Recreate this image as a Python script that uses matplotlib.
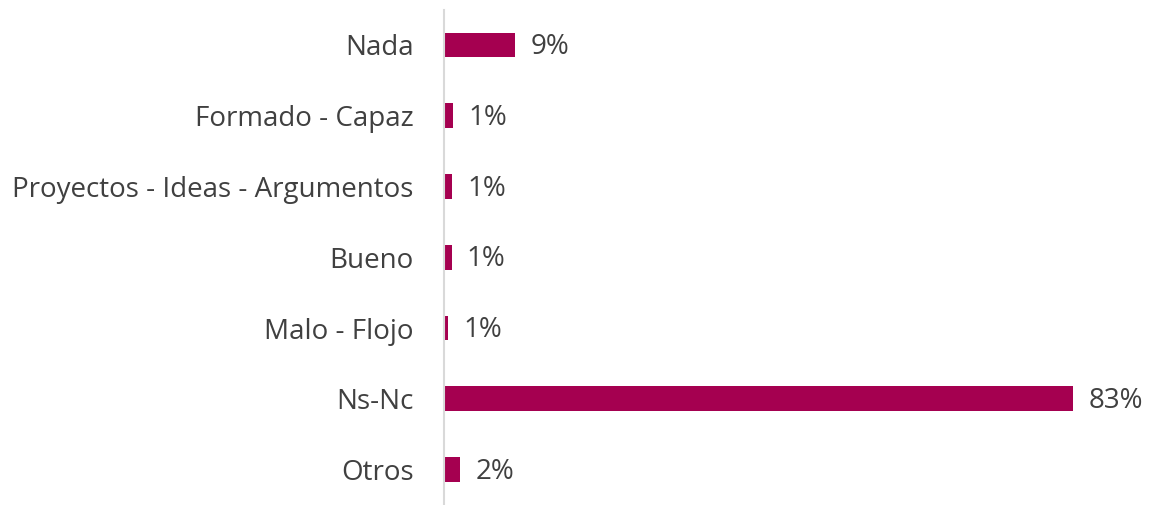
import matplotlib
matplotlib.use('Agg')
import matplotlib.pyplot as plt

categorias = ['Nada', 'Formado - Capaz', 'Proyectos - Ideas - Argumentos',
              'Bueno', 'Malo - Flojo', 'Ns-Nc', 'Otros']
valores = [9.4, 1.2, 1.1, 1.0, 0.55, 83.0, 2.1]
etiquetas = ['9%', '1%', '1%', '1%', '1%', '83%', '2%']

color_barra = '#A50050'
color_texto = '#404040'

plt.rcParams['font.family'] = ['Open Sans', 'DejaVu Sans']

fig = plt.figure(figsize=(11.49, 5.05), dpi=100)
ax = fig.add_axes([444 / 1149, 0.0, 682 / 1149, 1 - 9.5 / 505])

pos = list(range(len(categorias)))
ax.barh(pos, valores, height=0.35, color=color_barra)
for p, v, t in zip(pos, valores, etiquetas):
    ax.annotate(t, (v, p), xytext=(11, -1.5), textcoords='offset points',
                va='center', ha='left', fontsize=20, color=color_texto)

ax.set_yticks(pos)
ax.set_yticklabels(categorias, fontsize=20, color=color_texto)
ax.set_ylim(len(categorias) - 0.5, -0.5)
ax.set_xlim(0, 90)
ax.set_xticks([])
ax.tick_params(axis='y', length=0, pad=22)
for s in ['top', 'right', 'bottom']:
    ax.spines[s].set_visible(False)
ax.spines['left'].set_color('#d9d9d9')
ax.spines['left'].set_linewidth(1.5)

fig.savefig('out.png', dpi=100)
